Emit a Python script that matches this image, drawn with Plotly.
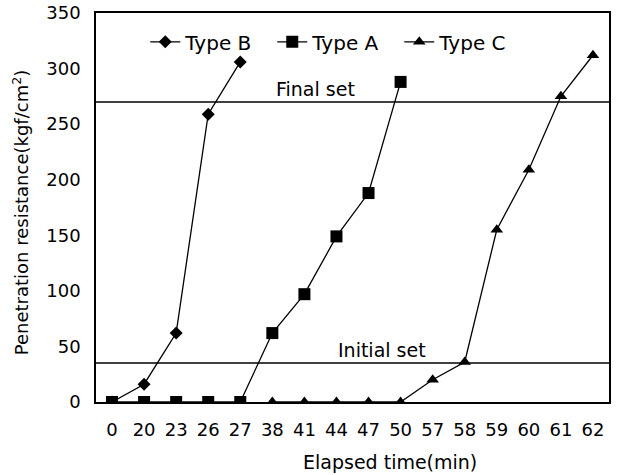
import plotly.graph_objects as go

categories = ["0", "20", "23", "26", "27", "38", "41", "44", "47", "50",
              "57", "58", "59", "60", "61", "62"]
type_b_x = ["0", "20", "23", "26", "27"]
type_b_y = [0, 16, 62, 259, 306]
type_a_x = ["0", "20", "23", "26", "27", "38", "41", "44", "47", "50"]
type_a_y = [0, 0, 0, 0, 0, 62, 97, 149, 188, 288]
type_c_x = ["38", "41", "44", "47", "50", "57", "58", "59", "60", "61", "62"]
type_c_y = [0, 0, 0, 0, 0, 20, 36, 155, 209, 275, 312]
final_set = 270
initial_set = 35
y_ticks = [0, 50, 100, 150, 200, 250, 300, 350]

FONT = "DejaVu Sans, sans-serif"

fig = go.Figure()
fig.add_trace(go.Scatter(x=type_b_x, y=type_b_y, name="Type B", mode="lines+markers",
                         line=dict(color="black", width=1.3),
                         marker=dict(symbol="diamond", size=10, color="black")))
fig.add_trace(go.Scatter(x=type_a_x, y=type_a_y, name="Type A", mode="lines+markers",
                         line=dict(color="black", width=1.3),
                         marker=dict(symbol="square", size=12, color="black")))
fig.add_trace(go.Scatter(x=type_c_x, y=type_c_y, name="Type C", mode="lines+markers",
                         line=dict(color="black", width=1.3),
                         marker=dict(symbol="triangle-up", size=11, color="black")))

fig.add_shape(type="line", xref="paper", x0=0, x1=1, yref="y", y0=final_set, y1=final_set,
              line=dict(color="black", width=1.5))
fig.add_shape(type="line", xref="paper", x0=0, x1=1, yref="y", y0=initial_set, y1=initial_set,
              line=dict(color="black", width=1.5))
fig.add_annotation(xref="x", x=6.35, yref="y", y=final_set, text="Final set", showarrow=False,
                   yanchor="bottom", xanchor="center", yshift=0,
                   font=dict(size=19, color="black", family=FONT))
fig.add_annotation(xref="x", x=8.42, yref="y", y=initial_set, text="Initial set", showarrow=False,
                   yanchor="bottom", xanchor="center", yshift=0,
                   font=dict(size=19, color="black", family=FONT))
fig.add_annotation(xref="paper", yref="paper", x=0.573, y=0, yshift=-60,
                   text="Elapsed time(min)", showarrow=False, yanchor="middle",
                   font=dict(size=19, color="black", family=FONT))
fig.add_annotation(xref="paper", yref="paper", x=-0.146, y=0.488, textangle=-90,
                   text="Penetration resistance(kgf/cm<sup>2</sup>)", showarrow=False,
                   xanchor="center", yanchor="middle",
                   font=dict(size=18, color="black", family=FONT))

fig.update_layout(
    width=619, height=475,
    margin=dict(l=96, r=10, t=13, b=73),
    paper_bgcolor="white", plot_bgcolor="white",
    font=dict(family=FONT, size=18, color="black"),
    showlegend=True,
    legend=dict(orientation="h", x=0.096, y=0.926, xanchor="left", yanchor="middle",
                bgcolor="rgba(0,0,0,0)", font=dict(size=20), itemwidth=30,
                entrywidth=82, entrywidthmode="pixels", tracegroupgap=0),
    xaxis=dict(type="category", categoryorder="array", categoryarray=categories,
               range=[-0.5, 15.5], showgrid=False, showline=True, linecolor="black",
               linewidth=1.5, mirror=True, ticks="", ticklabelstandoff=11,
               tickfont=dict(size=18), zeroline=False, automargin=False),
    yaxis=dict(range=[0, 350], tickvals=y_ticks, showgrid=False, showline=True,
               linecolor="black", linewidth=1.5, mirror=True, ticks="",
               ticklabelstandoff=10, zeroline=False, tickfont=dict(size=18),
               automargin=False),
)

fig.write_html("out.html", config={"displayModeBar": False},
               post_script="document.body.style.margin='0';")
